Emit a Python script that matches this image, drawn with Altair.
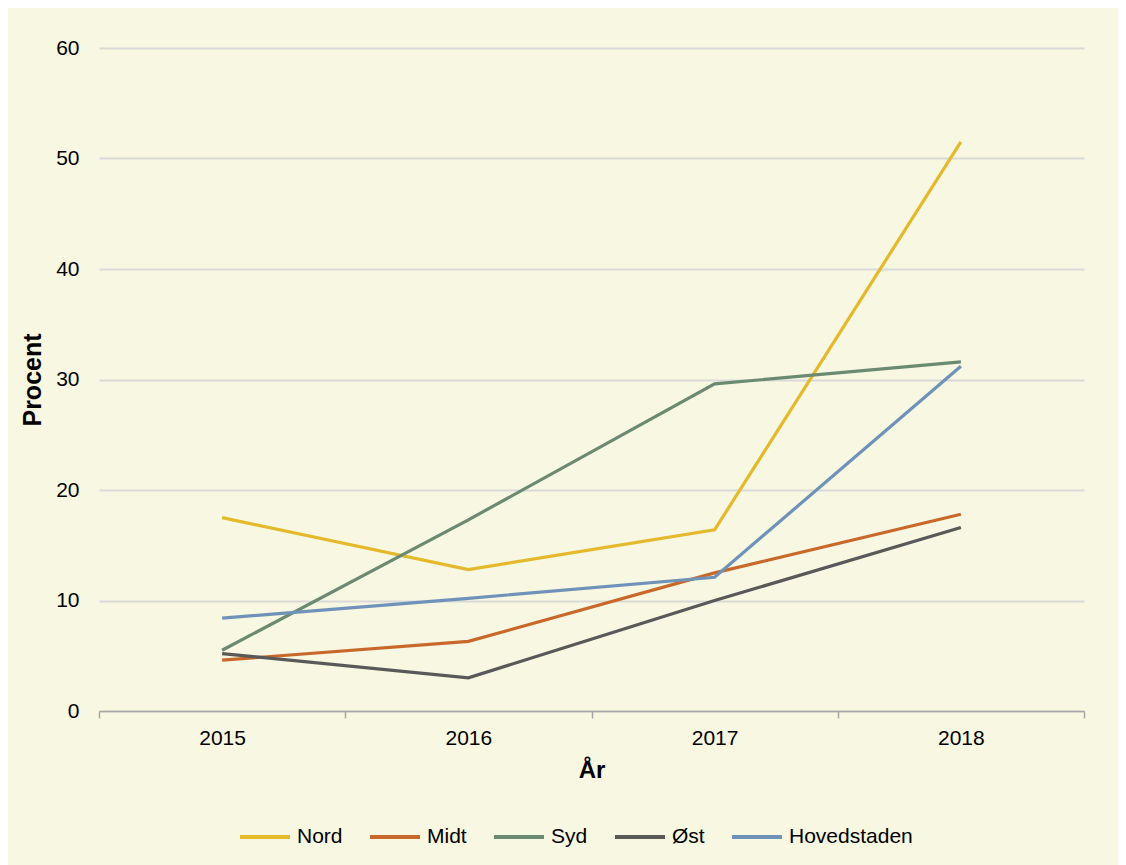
import altair as alt
import pandas as pd

years = ["2015", "2016", "2017", "2018"]
regions = ["Nord", "Midt", "Syd", "Øst", "Hovedstaden"]
nord = [17.5, 12.8, 16.4, 51.5]
midt = [4.6, 6.3, 12.5, 17.8]
syd = [5.5, 17.3, 29.6, 31.6]
oest = [5.2, 3.0, 10.0, 16.6]
hoved = [8.4, 10.2, 12.1, 31.2]
colors = ["#e5b92c", "#c8692b", "#6b8a72", "#595959", "#6f93b8"]

series = [nord, midt, syd, oest, hoved]
rows = []
for r, vals in zip(regions, series):
    for y, v in zip(years, vals):
        rows.append({"År": y, "Region": r, "Procent": v})
df = pd.DataFrame(rows)

FONT = "Liberation Sans"

chart = alt.Chart(df).mark_line(strokeWidth=3.2).encode(
    x=alt.X("År:N", sort=years,
            scale=alt.Scale(type="band", paddingInner=0, paddingOuter=0),
            axis=alt.Axis(title="År", labelAngle=0, tickBand="extent",
                          labelFontSize=21, labelFont=FONT, labelColor="#000000",
                          labelPadding=9, titleFontSize=24, titleFont=FONT,
                          titleFontWeight="bold", titleColor="#000000", titlePadding=10,
                          domainColor="#a6a6a6", domainWidth=1.5,
                          tickColor="#a6a6a6", tickWidth=1.5, tickSize=7,
                          grid=False)),
    y=alt.Y("Procent:Q",
            scale=alt.Scale(domain=[0, 60], nice=False),
            axis=alt.Axis(title="Procent", values=[0, 10, 20, 30, 40, 50, 60],
                          labelFontSize=21, labelFont=FONT, labelColor="#000000",
                          labelPadding=20, ticks=False, domain=False,
                          titleFontSize=25, titleFont=FONT, titleFontWeight="bold",
                          titleColor="#000000", titlePadding=10,
                          gridColor="#d9d9d9", gridWidth=2)),
    color=alt.Color("Region:N", sort=regions,
                    scale=alt.Scale(domain=regions, range=colors),
                    legend=alt.Legend(title=None, orient="none", direction="horizontal",
                                      legendX=139, legendY=762,
                                      symbolType="stroke", symbolStrokeWidth=4,
                                      symbolSize=2500, labelFontSize=21, labelFont=FONT,
                                      labelColor="#000000", columnPadding=19,
                                      labelOffset=5)),
).properties(
    width=985, height=663,
    background="#f8f7e1",
    padding={"left": 12, "right": 33, "top": 29, "bottom": 20},
).configure_view(stroke=None)

chart.save("out.html", embed_options={"renderer": "svg", "actions": False})
